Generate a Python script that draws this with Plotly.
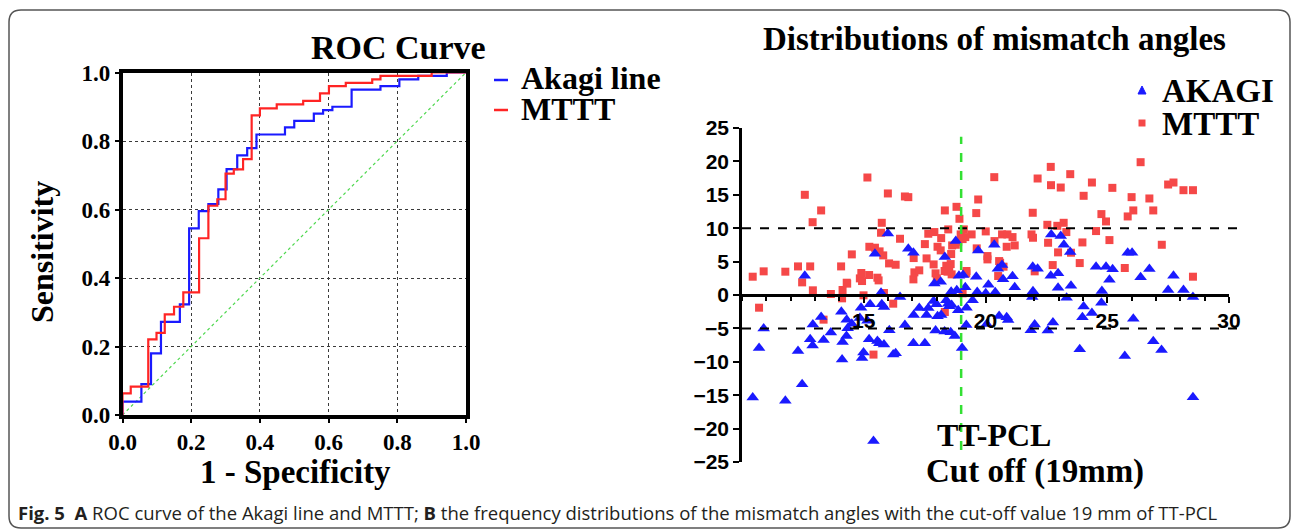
import plotly.graph_objects as go

W, H = 1295, 529

# ---------------- data ----------------
# ROC step vertices (1 - specificity, sensitivity)
akagi_fpr = [0, 0, 0.055, 0.083, 0.112, 0.167, 0.194, 0.222, 0.25, 0.279, 0.303, 0.334, 0.363,
             0.39, 0.473, 0.5, 0.557, 0.584, 0.611, 0.667, 0.751, 0.806, 0.861, 0.944, 1.0]
akagi_tpr = [0, 0.039, 0.09, 0.18, 0.272, 0.323, 0.545, 0.595, 0.616, 0.659, 0.718, 0.758, 0.779,
             0.819, 0.84, 0.859, 0.880, 0.89, 0.9, 0.95, 0.96, 0.98, 0.99, 1.0, 1.0]
mttt_fpr = [0, 0, 0.024, 0.075, 0.099, 0.123, 0.15, 0.177, 0.223, 0.25, 0.276, 0.3, 0.324,
            0.351, 0.376, 0.4, 0.449, 0.526, 0.575, 0.601, 0.65, 0.727, 0.751, 0.9, 1.0]
mttt_tpr = [0, 0.063, 0.083, 0.221, 0.24, 0.294, 0.316, 0.358, 0.516, 0.611, 0.63, 0.705, 0.717,
            0.747, 0.875, 0.895, 0.907, 0.917, 0.939, 0.96, 0.97, 0.98, 0.99, 1.0, 1.0]

# Mismatch angles vs TT-PCL
mttt_x = [10.44, 10.70, 10.89, 11.78, 12.30, 12.47, 12.58, 12.80, 12.90, 12.91, 13.25, 13.35, 13.65,
          14.07, 14.13, 14.11, 14.30, 14.32, 14.51, 14.84, 14.90, 14.93, 14.99, 15.15, 15.22, 15.23,
          15.40, 15.46, 15.56, 15.61, 15.65, 15.71, 15.74, 15.80, 15.83, 15.99, 16.04, 16.21, 16.31,
          16.49, 16.69, 16.83, 17.05, 17.04, 17.08, 17.28, 17.51, 17.58, 17.65, 17.87, 17.90, 17.95,
          18.03, 18.00, 18.16, 18.18, 18.33, 18.32, 18.39, 18.44, 18.47, 18.51, 18.57, 18.59, 18.63,
          18.61, 18.78, 18.81, 18.88, 18.93, 18.98, 19.11, 19.06, 19.17, 19.22, 19.21, 19.06, 18.33,
          19.43, 19.62, 19.70, 19.64, 20.01, 20.08, 20.08, 20.36, 20.37, 20.52, 20.56, 20.60, 20.68,
          20.74, 20.87, 20.90, 21.11, 21.20, 21.89, 21.94, 21.95, 22.02, 22.14, 22.57, 22.54, 22.68,
          22.69, 22.76, 22.95, 22.98, 23.09, 23.21, 23.32, 23.48, 23.51, 23.87, 23.98, 24.03, 24.37,
          24.54, 24.76, 24.95, 25.09, 25.21, 25.72, 25.84, 26.00, 26.07, 26.37, 26.73, 26.89, 27.24,
          27.50, 27.72, 28.13, 28.52, 28.52]
mttt_y = [2.74, -1.9, 3.54, 3.49, 4.28, 1.89, 15.0, 4.28, 10.9, 0.7, 12.66, -3.69, 0.15,
          4.28, 0.75, -0.5, 1.84, 1.7, 6.08, 2.49, 3.29, 2.09, -0.05, 17.59, 2.99, 7.22,
          -8.92, 7.08, 2.59, 2.19, 6.53, 9.32, 10.81, 5.93, 0.3, 15.2, 4.73, -1.3, 4.53,
          8.42, 14.75, 14.65, 5.53, 2.34, 3.39, 3.69, 7.62, 5.48, 9.17, 4.58, 9.42, 3.24,
          7.22, 2.49, 6.68, 8.52, 12.66, 3.59, 4.38, 3.49, 9.82, 3.94, 4.63, 6.13, 7.42,
          3.09, 7.52, 13.2, 7.97, 11.41, 9.07, 9.82, 8.37, 8.67, 3.59, 3.24, 0.25, -2.54,
          9.07, 12.26, 14.3, 6.98, 9.52, 5.33, 5.83, 17.64, 8.07, 2.84, 5.08, 4.83, 9.07,
          4.24, 7.22, 9.07, 8.67, 7.42, 9.07, 12.31, 8.57, 3.54, 17.44, 7.82, 10.51, 19.18,
          16.44, 4.48, 10.36, 6.38, 16.09, 10.81, 9.42, 18.09, 6.33, 4.78, 7.87, 14.85, 16.84,
          9.57, 12.11, 11.01, 8.22, 16.04, 4.04, 11.76, 14.65, 12.66, 19.88, 14.45, 12.66, 7.52,
          16.54, 16.84, 15.69, 15.69, 2.74]

akagi_x = [10.44, 10.70, 10.89, 11.78, 12.30, 12.47, 12.58, 12.80, 12.90, 12.91, 13.25, 13.35, 13.65,
           14.08, 14.13, 14.11, 14.29, 14.30, 14.34, 14.51, 14.84, 14.89, 14.93, 14.99, 15.15, 15.22,
           15.26, 15.40, 15.46, 15.56, 15.64, 15.71, 15.74, 15.83, 15.83, 15.99, 16.05, 16.21, 16.31,
           16.49, 16.69, 16.83, 17.04, 17.05, 17.04, 17.28, 17.51, 17.58, 17.65, 17.87, 17.90, 17.95,
           17.99, 18.03, 18.16, 18.18, 18.33, 18.32, 18.39, 18.47, 18.51, 18.57, 18.59, 18.61, 18.74,
           18.78, 18.82, 18.88, 18.91, 19.04, 19.08, 19.17, 19.22, 19.21, 19.47, 19.62, 19.66, 19.70,
           20.01, 20.05, 20.12, 20.36, 20.40, 20.51, 20.56, 20.68, 20.72, 20.87, 20.93, 21.11, 21.20,
           21.86, 21.94, 21.95, 21.92, 22.02, 22.14, 22.56, 22.68, 22.70, 22.77, 22.98, 22.98, 23.09,
           23.22, 23.33, 23.48, 23.51, 23.87, 23.98, 24.03, 24.37, 24.54, 24.76, 24.78, 24.95, 25.09,
           25.22, 25.72, 25.84, 26.02, 26.07, 26.37, 26.73, 26.89, 27.23, 27.50, 27.72, 28.13, 28.52,
           28.52]
akagi_y = [-15.35, -7.92, -5.03, -15.84, -8.37, -13.35, 2.89, -6.63, -7.57, -4.43, -3.29, -6.73, -5.63,
           -2.49, -7.03, -9.67, -6.13, -3.69, -4.98, -4.29, -3.44, -1.89, -9.42, -8.62, -3.84, -6.63,
           -1.40, -21.87, 6.18, -6.88, -7.22, 0.35, -1.40, -1.79, -7.42, 9.22, -5.28, -8.92, -8.72,
           -0.30, -4.48, 6.93, 6.33, -2.99, -7.22, -1.94, -7.22, -2.99, -1.94, -0.9, 1.74, -5.33,
           -1.40, -3.19, 1.99, -2.99, 5.68, -5.48, -0.80, -1.30, -1.69, -5.58, 0.50, -1.49, -6.13,
           8.07, 0.70, -2.29, 2.89, -7.92, 2.99, 1.15, -1.89, -4.48, -0.80, 2.74, 0.45, 6.68,
           0.25, -4.33, 1.54, 7.52, 0.40, 3.94, -3.14, 4.48, 2.34, -3.34, -3.74, 2.79, 1.15,
           -5.28, 4.24, 0.55, -0.30, -4.43, 3.94, -5.33, 2.89, 9.07, -4.13, 3.24, 1.10, 8.82,
           7.52, -0.40, 6.43, 1.40, -8.12, -3.34, -1.74, -2.69, 4.24, -1.15, 0.60, 4.24, 2.29,
           3.84, -9.12, 6.33, 6.33, -3.54, 2.64, 3.89, -6.93, -8.22, 0.75, 2.89, 0.75, -0.30,
           -15.30]

roc_ticks = [0.0, 0.2, 0.4, 0.6, 0.8, 1.0]
scatter_yticks = [-25, -20, -15, -10, -5, 0, 5, 10, 15, 20, 25]
scatter_xticks = [15, 20, 25, 30]
cutoff = 19
thresholds = [10, -5]

# ---------------- helpers ----------------
def px(x):
    return x / W

def py(y):
    return 1 - y / H

SERIF = "Liberation Serif"
SANS = "Liberation Sans"
BLUE = "#1a1aff"
RED = "#ff2424"
SQ_RED = "#f54848"

fig = go.Figure()

# ROC curves
fig.add_trace(go.Scatter(x=[0, 1], y=[0, 1], mode="lines",
                         line=dict(color="#4fd84f", width=1.2, dash="dot"),
                         xaxis="x", yaxis="y", showlegend=False, hoverinfo="skip"))
fig.add_trace(go.Scatter(x=akagi_fpr, y=akagi_tpr, mode="lines", line_shape="hv",
                         line=dict(color=BLUE, width=2.2), name="Akagi line",
                         xaxis="x", yaxis="y", showlegend=False))
fig.add_trace(go.Scatter(x=mttt_fpr, y=mttt_tpr, mode="lines", line_shape="hv",
                         line=dict(color=RED, width=2.2), name="MTTT",
                         xaxis="x", yaxis="y", showlegend=False))

# Scatter
fig.add_trace(go.Scatter(x=mttt_x, y=mttt_y, mode="markers", name="MTTT",
                         marker=dict(symbol="square", size=8, color=SQ_RED),
                         xaxis="x2", yaxis="y2", showlegend=False))
fig.add_trace(go.Scatter(x=akagi_x, y=akagi_y, mode="markers", name="AKAGI",
                         marker=dict(symbol="triangle-up", size=11, color=BLUE),
                         xaxis="x2", yaxis="y2", showlegend=False))

roc_xdom = [px(122.5), px(466)]
roc_ydom = [py(415), py(72.5)]
sc_xdom = [px(742), px(1229)]
sc_ydom = [py(462), py(128)]
# position of the zero line (x axis crosses y = 0)
zero_pos = sc_ydom[0] + (0 - (-25)) / 50 * (sc_ydom[1] - sc_ydom[0])

fig.update_layout(
    width=W, height=H,
    margin=dict(l=0, r=0, t=0, b=0, autoexpand=False),
    paper_bgcolor="white", plot_bgcolor="white",
    xaxis=dict(domain=roc_xdom, range=[0, 1], anchor="y", automargin=False,
               tickvals=roc_ticks, ticktext=[f"{v:.1f}" for v in roc_ticks],
               showgrid=True, gridcolor="#3a3a3a", griddash="dot", gridwidth=1,
               showline=True, mirror=True, linecolor="black", linewidth=3.5,
               ticks="outside", ticklen=4, tickwidth=1.5, tickcolor="black",
               ticklabelstandoff=0,
               tickfont=dict(family=SERIF, size=23, color="black", weight="bold"),
               zeroline=False, fixedrange=True),
    yaxis=dict(domain=roc_ydom, range=[0, 1], anchor="x", automargin=False,
               tickvals=roc_ticks, ticktext=[f"{v:.1f}" for v in roc_ticks],
               showgrid=True, gridcolor="#3a3a3a", griddash="dot", gridwidth=1,
               showline=True, mirror=True, linecolor="black", linewidth=3.5,
               ticks="outside", ticklen=4, tickwidth=1.5, tickcolor="black",
               tickfont=dict(family=SERIF, size=23, color="black", weight="bold"),
               zeroline=False, fixedrange=True),
    xaxis2=dict(domain=sc_xdom, range=[10, 30], anchor="free", position=zero_pos, automargin=False,
                tickvals=scatter_xticks, showgrid=False, zeroline=False,
                showline=True, linecolor="black", linewidth=2.5,
                ticks="outside", ticklen=6, tickwidth=2, tickcolor="black",
                minor=dict(ticks="outside", dtick=1, ticklen=4, tickwidth=1.5, tickcolor="black"),
                ticklabelstandoff=0,
                tickfont=dict(family=SANS, size=21, color="black", weight="bold"),
                fixedrange=True),
    yaxis2=dict(domain=sc_ydom, range=[-25, 25], anchor="x2", automargin=False,
                tickvals=scatter_yticks, showgrid=False, zeroline=False,
                showline=True, linecolor="black", linewidth=2.5,
                ticks="outside", ticklen=6, tickwidth=2, tickcolor="black",
                tickfont=dict(family=SANS, size=21, color="black", weight="bold"),
                fixedrange=True),
)

shapes = []
# rounded outer border
x0, x1, y0, y1, r = 9, 1290, 10, 528, 12
path = (f"M {px(x0 + r)} {py(y0)} L {px(x1 - r)} {py(y0)} Q {px(x1)} {py(y0)} {px(x1)} {py(y0 + r)} "
        f"L {px(x1)} {py(y1 - r)} Q {px(x1)} {py(y1)} {px(x1 - r)} {py(y1)} "
        f"L {px(x0 + r)} {py(y1)} Q {px(x0)} {py(y1)} {px(x0)} {py(y1 - r)} "
        f"L {px(x0)} {py(y0 + r)} Q {px(x0)} {py(y0)} {px(x0 + r)} {py(y0)} Z")
shapes.append(dict(type="path", path=path, xref="paper", yref="paper",
                   line=dict(color="#555555", width=1.5), layer="below"))

# threshold lines in the scatter
for t in thresholds:
    shapes.append(dict(type="line", xref="paper", yref="y2", x0=sc_xdom[0], x1=px(1240), y0=t, y1=t,
                       line=dict(color="black", width=2, dash="dash"), layer="above"))
# cutoff line
shapes.append(dict(type="line", xref="x2", yref="y2", x0=cutoff, x1=cutoff, y0=-23.2, y1=23.7,
                   line=dict(color="#33e033", width=2.5, dash="dash"), layer="above"))

# ROC legend glyphs
shapes.append(dict(type="line", xref="paper", yref="paper", x0=px(494), x1=px(508), y0=py(80), y1=py(80),
                   line=dict(color=BLUE, width=2.5)))
shapes.append(dict(type="line", xref="paper", yref="paper", x0=px(494), x1=px(508), y0=py(110), y1=py(110),
                   line=dict(color=RED, width=2.5)))
# scatter legend glyphs
tx, ty, s = 1142, 90, 4
shapes.append(dict(type="path", xref="paper", yref="paper",
                   path=f"M {px(tx - s)} {py(ty + s)} L {px(tx + s)} {py(ty + s)} L {px(tx)} {py(ty - s)} Z",
                   fillcolor=BLUE, line=dict(color=BLUE, width=1)))
sx, sy = 1142, 123
shapes.append(dict(type="rect", xref="paper", yref="paper",
                   x0=px(sx - 3.5), x1=px(sx + 3.5), y0=py(sy + 3.5), y1=py(sy - 3.5),
                   fillcolor=SQ_RED, line=dict(color=SQ_RED, width=0)))
fig.update_layout(shapes=shapes)

def ann(text, x, y, size, family=SERIF, xanchor="center", angle=0, color="black"):
    return dict(text=text, x=px(x), y=py(y), xref="paper", yref="paper", showarrow=False,
                xanchor=xanchor, yanchor="middle", textangle=angle,
                font=dict(family=family, size=size, color=color))

annotations = [
    ann("<b>ROC Curve</b>", 398, 48, 34),
    ann("<b>Sensitivity</b>", 42, 252, 32, angle=-90),
    ann("<b>1 - Specificity</b>", 295, 472, 33),
    ann("<b>Akagi line</b>", 519, 78, 32, xanchor="left"),
    ann("<b>MTTT</b>", 519, 109, 32, xanchor="left"),
    ann("<b>Distributions of mismatch angles</b>", 994, 39, 33),
    ann("<b>AKAGI</b>", 1160, 91, 33, xanchor="left"),
    ann("<b>MTTT</b>", 1160, 124, 33, xanchor="left"),
    ann("<b>TT-PCL</b>", 994, 435, 32),
    ann("<b>Cut off (19mm)</b>", 1035, 471, 33),
    ann("<b>Fig. 5</b>  <b>A</b> ROC curve of the Akagi line and MTTT; <b>B</b> the frequency distributions "
        "of the mismatch angles with the cut-off value 19 mm of TT-PCL",
        16, 512, 18.5, family="Open Sans", xanchor="left", color="#231f20"),
]
fig.update_layout(annotations=annotations)

fig.write_html("out.html", config={"displayModeBar": False},
               post_script="document.body.style.margin='0';document.body.style.overflow='hidden';")
